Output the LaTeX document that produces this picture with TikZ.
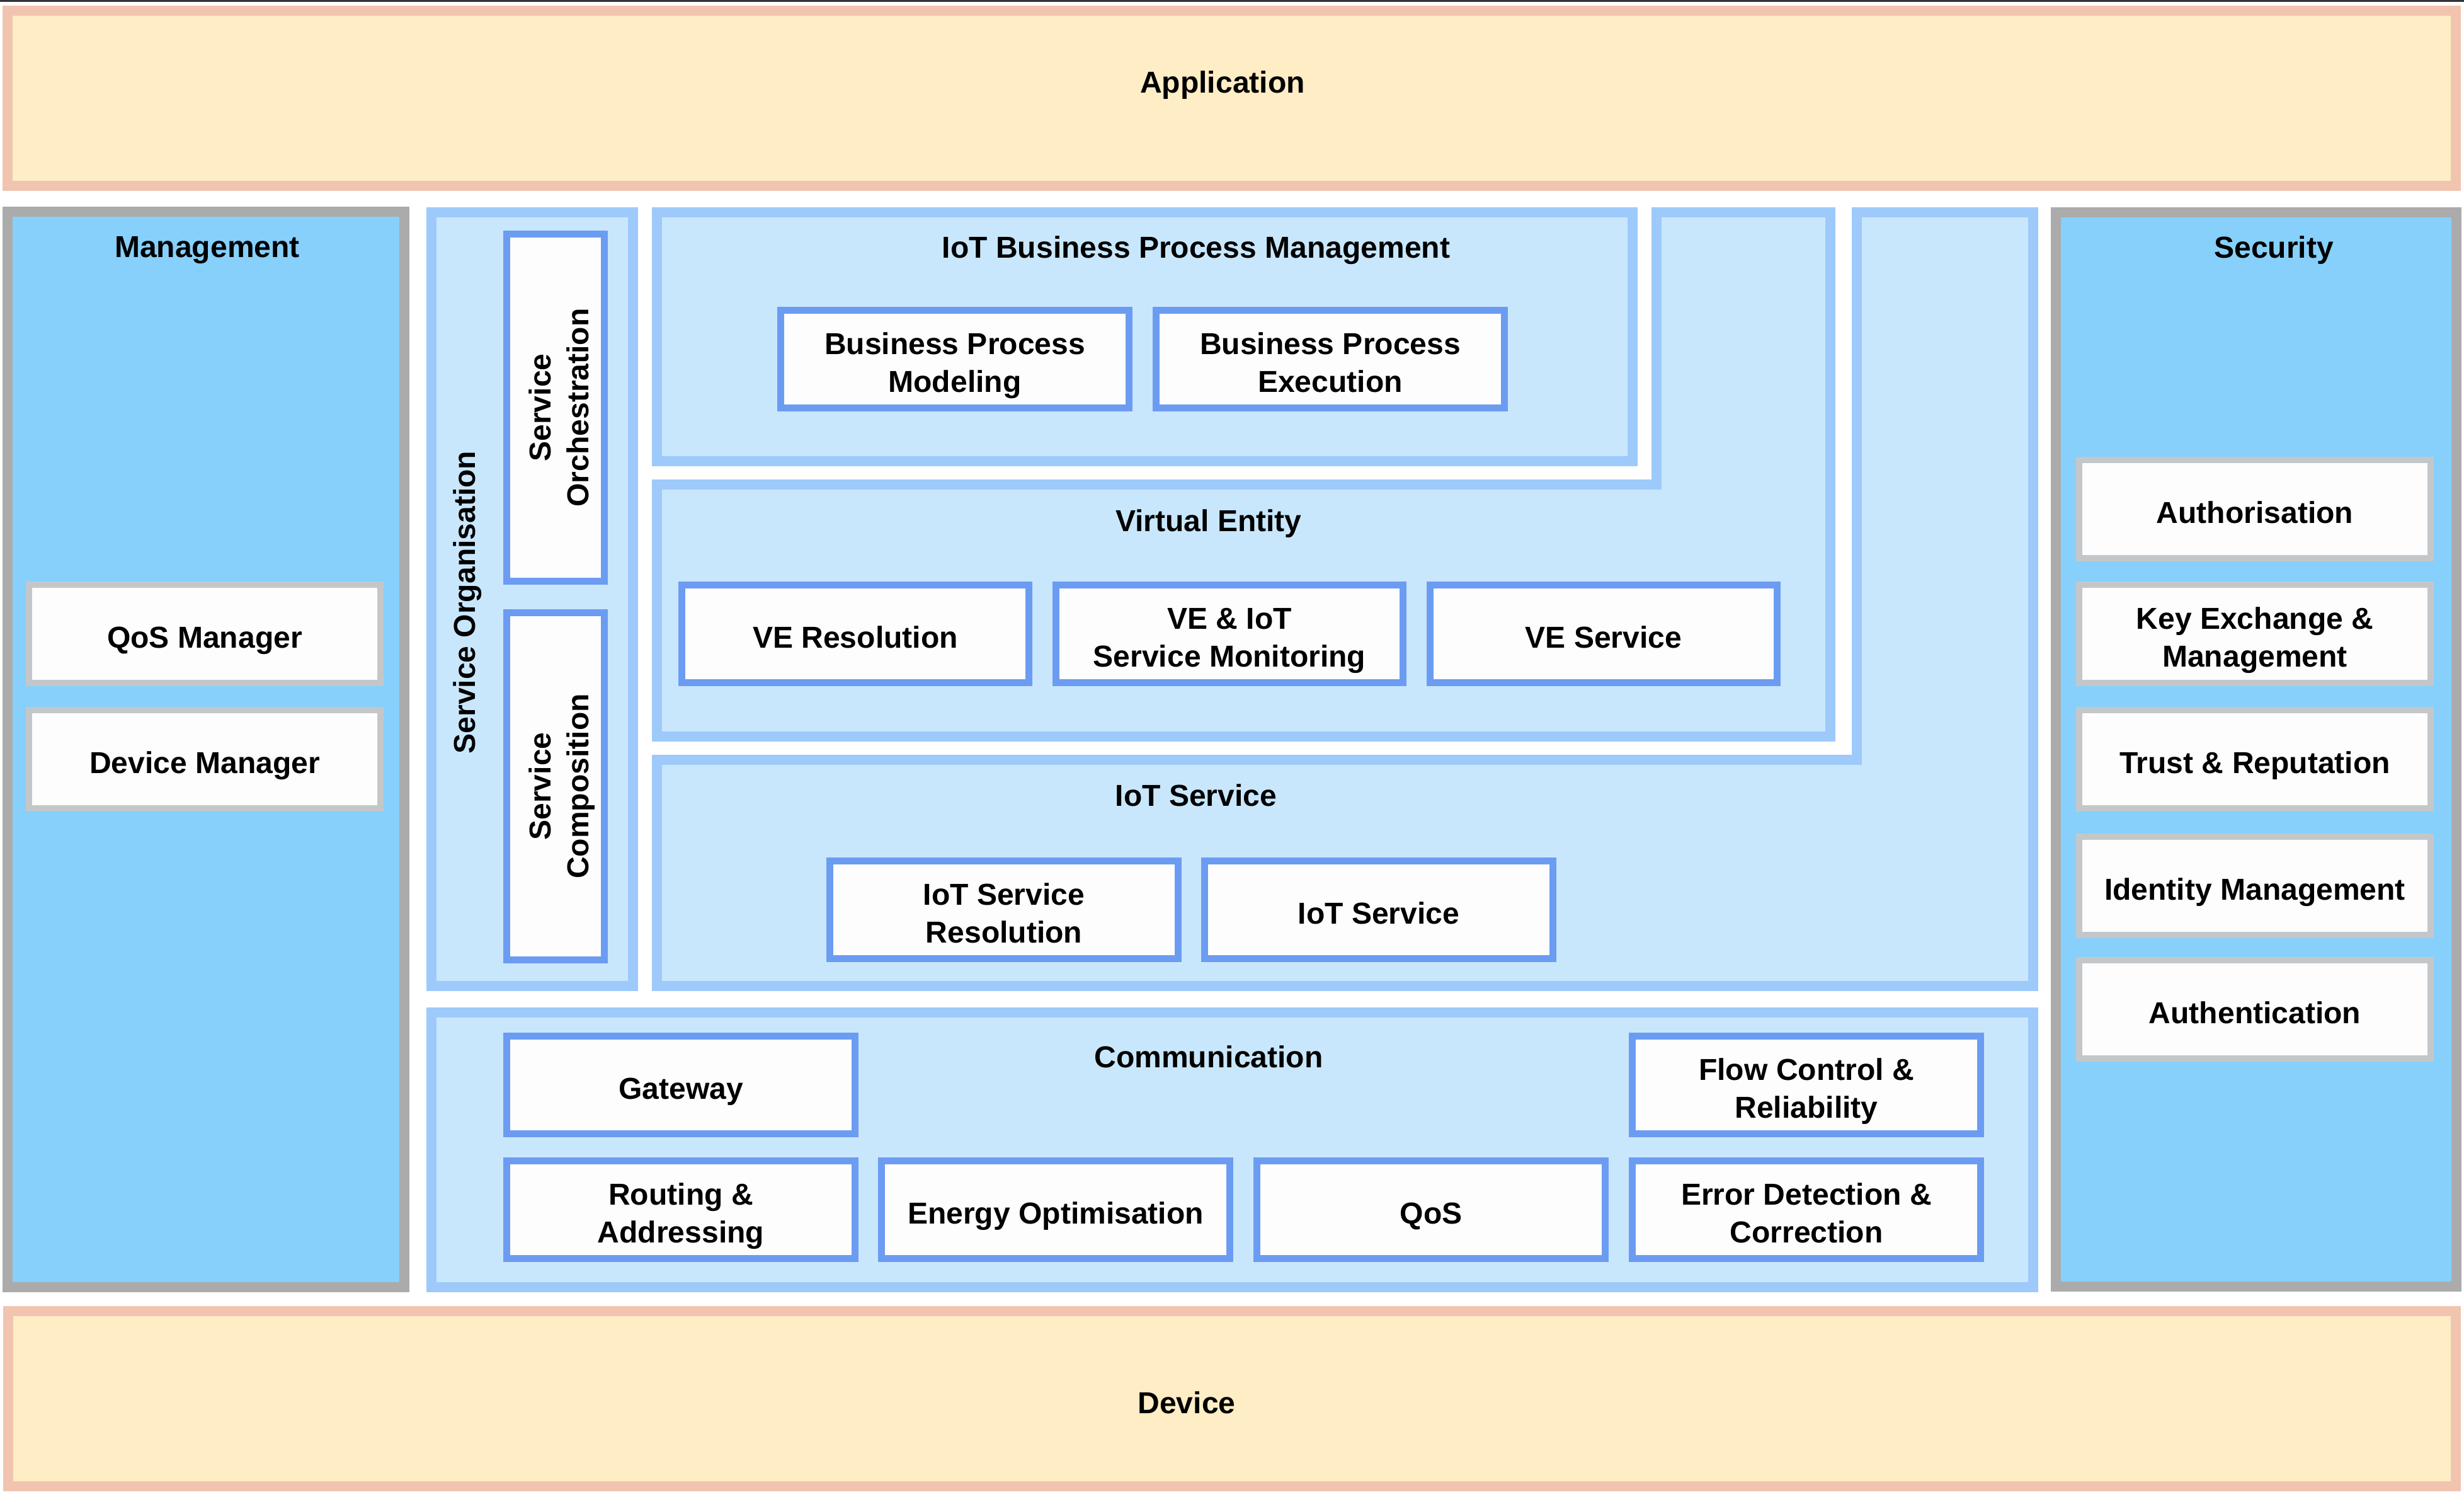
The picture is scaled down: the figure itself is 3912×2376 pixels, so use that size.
\documentclass[tikz,border=0pt]{standalone}
\usepackage{fontspec}
\setmainfont{Liberation Sans}
\newcommand\lblfont{\fontsize{13.66pt}{17.07pt}\selectfont\bfseries}
\newcommand\tsA{\rule{0pt}{16pt}}
\newcommand\tsB{\rule[-3.2pt]{0pt}{3.2pt}}
\newcommand\lab[1]{\tsA#1\tsB}
\definecolor{salmonB}{HTML}{F1C4B0}
\definecolor{creamF}{HTML}{FEEDC5}
\definecolor{grayB}{HTML}{ABABAB}
\definecolor{skyF}{HTML}{86D0FB}
\definecolor{frameB}{HTML}{9DCAFB}
\definecolor{paleF}{HTML}{C9E7FC}
\definecolor{itemB}{HTML}{6C9CF2}
\definecolor{itemF}{HTML}{FDFDFD}
\definecolor{gitemB}{HTML}{C4C7CA}
\begin{document}
\begin{tikzpicture}[x=0.01cm,y=-0.01cm,
  every node/.style={font=\lblfont, text=black, inner sep=0pt, outer sep=0pt, align=center},
  frame/.style={line width=0.16cm, line join=miter},
  tanframe/.style={frame, draw=salmonB, fill=creamF},
  grayframe/.style={frame, draw=grayB, fill=skyF},
  blueframe/.style={frame, draw=frameB, fill=paleF},
  blueitem/.style={rectangle, draw=itemB, fill=itemF, line width=0.11cm, minimum width=5.53cm, minimum height=1.55cm},
  vitem/.style={blueitem, rotate=90, minimum width=5.51cm, minimum height=1.55cm},
  grayitem/.style={rectangle, draw=gitemB, fill=itemF, line width=0.10cm, minimum width=5.58cm, minimum height=1.56cm}]
\useasboundingbox (0,0) rectangle (3912,2376);
\fill[white] (0,0) rectangle (3912,2376);
\fill[black!80] (0,0) rectangle (3912,3);
% outer frames
\draw[tanframe] (12,17) rectangle (3899,295);
\draw[tanframe] (13,2081) rectangle (3899,2359);
\draw[grayframe] (12,336) rectangle (642,2043);
\draw[grayframe] (3264,337) rectangle (3900,2042);
\draw[blueframe] (685,337) rectangle (1005,1565);
\draw[blueframe] (1043,337) rectangle (2592,732);
\draw[blueframe] (2630,337) -- (2906,337) -- (2906,1169) -- (1043,1169) -- (1043,769) -- (2630,769) -- cycle;
\draw[blueframe] (2948,337) -- (3228,337) -- (3228,1565) -- (1043,1565) -- (1043,1206) -- (2948,1206) -- cycle;
\draw[blueframe] (685,1607) rectangle (3228,2043);
% frame labels
\node (lapp) at (1941,135) {Application};
\node (ldev) at (1884,2226) {Device};
\node (lmgmt) at (329,397) {Management};
\node (lsec) at (3610,397) {Security};
\node (lbpm) at (1899,397) {IoT Business Process Management};
\node (lve) at (1919,831) {Virtual Entity};
\node (liots) at (1899,1262) {IoT Service};
\node (lcomm) at (1919,1677) {Communication};
\node[rotate=90] (lso) at (742,956) {Service Organisation};
% service organisation items
\node[vitem] (sorch) at (882,647) {\lab{Service\\Orchestration}};
\node[vitem] (scomp) at (882,1248) {\lab{Service\\Composition}};
% business process
\node[blueitem] (bpmm) at (1516,570) {\lab{Business Process\\Modeling}};
\node[blueitem] (bpme) at (2112,570) {\lab{Business Process\\Execution}};
% virtual entity
\node[blueitem, minimum width=5.51cm] (ver) at (1358,1006) {\lab{VE Resolution}};
\node[blueitem, minimum width=5.51cm] (vem) at (1952,1006) {\lab{VE \& IoT\\Service Monitoring}};
\node[blueitem, minimum width=5.51cm] (ves) at (2546,1006) {\lab{VE Service}};
% iot service
\node[blueitem] (iotr) at (1594,1444) {\lab{IoT Service\\Resolution}};
\node[blueitem] (iots) at (2189,1444) {\lab{IoT Service}};
% communication
\node[blueitem] (gw) at (1081,1722) {\lab{Gateway}};
\node[blueitem] (flow) at (2868,1722) {\lab{Flow Control \&\\Reliability}};
\node[blueitem] (rout) at (1081,1920) {\lab{Routing \&\\Addressing}};
\node[blueitem] (energy) at (1676,1920) {\lab{Energy Optimisation}};
\node[blueitem] (qos) at (2272,1920) {\lab{QoS}};
\node[blueitem] (err) at (2868,1920) {\lab{Error Detection \&\\Correction}};
% management
\node[grayitem] (qosm) at (325,1006) {\lab{QoS Manager}};
\node[grayitem] (devm) at (325,1205) {\lab{Device Manager}};
% security
\node[grayitem] (auth) at (3580,808) {\lab{Authorisation}};
\node[grayitem] (kex) at (3580,1006) {\lab{Key Exchange \&\\Management}};
\node[grayitem] (trust) at (3580,1205) {\lab{Trust \& Reputation}};
\node[grayitem] (idm) at (3580,1406) {\lab{Identity Management}};
\node[grayitem] (authn) at (3580,1602) {\lab{Authentication}};
\end{tikzpicture}
\end{document}
